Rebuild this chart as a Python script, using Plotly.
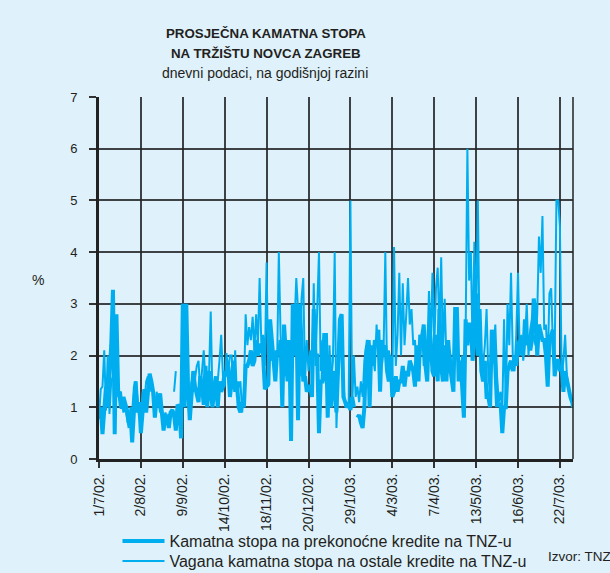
import plotly.graph_objects as go

# tick labels (every 24 working days)
tick_days = [0, 24, 48, 72, 96, 120, 144, 168, 192, 216, 240, 264]
tick_labels = ["1/7/02.", "2/8/02.", "9/9/02.", "14/10/02.", "18/11/02.", "20/12/02.",
               "29/1/03.", "4/3/03.", "7/4/03.", "13/5/03.", "16/6/03.", "22/7/03."]

# Kamatna stopa na prekonoćne kredite na TNZ-u (thick line), daily values
overnight = [
    0.77, 1.0, 0.48, 0.9, 1.4, 1.0, 1.5, 2.2, 3.27, 0.48,
    2.8, 1.26, 1.3, 0.97, 1.2, 1.1, 0.95, 0.7, 0.9, 0.32,
    0.85, 1.5, 0.9, 1.1, 0.5, 1.0, 1.35, 0.9, 1.2, 1.65,
    1.5, 1.3, 0.8, 1.2, 1.0, 1.27, 0.9, 0.55, 0.87, 0.8,
    0.6, 0.9, 0.95, 0.85, 0.55, 1.05, 1.0, 0.4, 3.0, 1.0,
    3.0, 1.4, 0.75, 1.2, 1.7, 1.4, 1.2, 1.1, 1.6, 1.4,
    1.05, 1.8, 1.0, 1.7, 1.3, 1.0, 1.4, 1.6, 1.0, 1.5,
    1.3, 1.4, 1.7, 1.6, 1.8, 1.2, 1.5, 1.9, 1.3, 1.5,
    1.0, 0.9, 1.1, 1.0, 1.8, 1.8, 1.9, 2.1, 1.8, 1.9,
    2.3, 2.0, 2.2, 2.2, 2.0, 1.35, 1.4, 1.45, 2.7, 2.3,
    2.0, 1.5, 2.1, 2.0, 2.3, 1.0, 2.6, 2.1, 1.5, 2.3,
    0.35, 3.0, 2.0, 3.0, 0.75, 3.0, 2.2, 1.5, 1.6, 1.3,
    1.4, 1.4, 1.2, 2.9, 2.0, 2.0, 0.5, 1.5, 1.5, 2.4,
    2.4, 0.8, 2.0, 1.0, 1.7, 1.4, 0.9, 1.8, 2.7, 2.8,
    1.2, 1.1, 1.0, 1.05, 0.95, 1.2, 1.0, None, 0.8, 0.85,
    0.7, 0.6, 1.0, 2.0, 2.3, 1.0, 2.2, 1.8, 2.3, 2.2,
    2.5, 1.3, 2.3, 2.0, 2.2, 1.7, 1.5, 2.0, 1.2, 1.3,
    1.6, 1.3, 1.5, 1.5, 1.8, 1.4, 1.7, 1.6, 1.9, 1.8,
    1.7, 1.4, 2.2, 1.5, 2.4, 2.3, 2.6, 1.8, 1.5, 2.6,
    2.3, 1.7, 1.6, 2.4, 1.5, 2.9, 1.8, 1.5, 2.2, 1.5,
    2.3, 1.8, 1.6, 1.3, 2.9, 2.9, 1.5, 1.9, 1.4, 0.8,
    2.7, 2.2, 2.6, 2.6, 1.9, 2.4, 3.2, 2.0, 2.9, 1.7,
    1.5, 1.9, 1.2, 1.2, 1.0, 2.5, 2.3, 1.8, 1.0, None,
    1.1, 0.5, 1.0, 1.0, 1.7, 1.8, 1.9, 1.7, 2.0, 1.8,
    2.2, 2.3, 2.1, 2.0, 2.7, 2.2, 2.3, 2.1, 2.3, 3.1,
    2.9, 2.0, 2.6, 2.4, 2.3, 2.3, 2.0, 1.4, 2.3, 2.4,
    2.5, 1.6, 1.9, 1.9, 1.7, 1.8, 1.3, 1.7, 1.5, 1.3,
    1.2, 1.1,
]

# Vagana kamatna stopa na ostale kredite na TNZ-u (thin line), daily values
other = [
    0.8, 1.35, 1.4, 2.1, 0.94, 2.0, 0.87, 1.5, 1.6, 1.4,
    1.2, 1.3, 1.0, 1.1, 0.9, 1.0, 0.8, 0.6, 1.0, 0.9,
    1.4, 1.5, 1.2, 0.8, 0.9, 1.3, 1.1, 1.5, 1.6, 1.3,
    1.5, 1.2, 1.0, 1.3, 1.1, 0.9, 1.0, 0.6, 0.9, 0.7,
    0.85, 0.9, None, 1.3, 1.7, None, 1.0, 0.45, 3.0, 2.9,
    2.4, 1.1, 1.0, 1.5, 1.3, 1.6, 1.8, 1.9, 1.3, 1.7,
    2.1, 1.5, 1.2, 1.6, 2.85, 1.2, 1.1, 1.3, 1.5, 1.9,
    2.4, 1.6, 1.4, 2.05, 1.7, 2.0, 2.0, 1.4, 2.1, 1.2,
    1.4, 1.5, 0.9, 1.3, 2.8, 2.2, 2.55, 2.3, 2.75, 2.1,
    2.8, 2.2, 3.5, 2.2, 2.4, 1.8, 3.8, 1.4, 2.3, 1.9,
    2.1, 1.6, 1.8, 4.0, 2.4, 1.8, 2.2, 1.6, 2.3, 1.5,
    1.8, 2.5, 2.6, 3.5, 2.9, 1.6, 3.1, 3.5, 1.5, 2.3,
    1.7, 2.1, 1.5, 3.4, 1.8, 2.9, 4.0, 1.7, 2.3, 1.5,
    1.8, 1.2, 2.2, 1.5, 1.9, 4.0, 0.6, 1.6, 2.2, 2.6,
    1.5, 1.0, 1.1, 1.0, 5.0, 1.0, 2.0, 1.2, 1.4, 1.1,
    1.5, 1.2, 1.9, 2.2, 1.6, 2.3, 1.8, 2.0, 1.7, 2.6,
    2.0, 2.2, 1.8, 2.1, 4.0, 1.6, 2.1, 1.9, 1.4, 4.1,
    1.8, 2.4, 3.6, 2.0, 3.4, 2.2, 2.8, 3.5, 2.6, 2.9,
    2.2, 2.3, 1.6, 2.1, 2.0, 2.5, 1.8, 2.3, 2.0, 3.25,
    2.2, 3.6, 2.1, 3.3, 3.7, 2.4, 3.9, 2.1, 3.1, 1.9,
    1.8, 2.1, 1.8, 1.7, 2.5, 2.2, 1.8, 1.6, 2.0, 1.5,
    2.4, 6.0, 3.45, 4.0, 2.1, 4.2, 2.6, 5.0, 2.2, 2.0,
    1.8, 2.2, 2.9, 1.6, 1.3, 2.0, 2.1, 2.6, 1.6, 1.1,
    1.3, 0.9, 2.7, 1.0, 3.0, 2.2, 3.6, 2.0, 1.7, 2.4,
    3.6, 2.0, 2.4, 1.9, 2.3, 3.0, 2.0, 2.5, 2.7, 2.4,
    2.2, 2.8, 4.3, 3.6, 4.7, 2.5, 2.6, 1.8, 3.2, 3.3,
    2.2, 2.0, 5.0, 5.0, 4.5, 1.6, 1.9, 2.4, 1.6, 1.4,
    1.2, 1.0,
]

days = list(range(len(overnight)))

BG = "#dff1fb"
LINE = "#00aeef"
TXT = "#231f20"
FONT = "Liberation Sans, Arial, sans-serif"

fig = go.Figure()
fig.add_trace(go.Scatter(
    x=days, y=overnight, mode="lines", connectgaps=False,
    line=dict(color=LINE, width=4), legend="legend",
    name="Kamatna stopa na prekonoćne kredite na TNZ-u"))
fig.add_trace(go.Scatter(
    x=list(range(len(other))), y=other, mode="lines", connectgaps=False,
    line=dict(color=LINE, width=2), legend="legend2",
    name="Vagana kamatna stopa na ostale kredite na TNZ-u"))

LEG = dict(xanchor="left", yanchor="middle", bgcolor="rgba(0,0,0,0)",
           font=dict(size=16, color=TXT), itemwidth=42)

fig.update_layout(
    width=610, height=573,
    margin=dict(l=99, r=37, t=97, b=114, autoexpand=False),
    paper_bgcolor=BG, plot_bgcolor=BG,
    font=dict(family=FONT, size=14, color=TXT),
    showlegend=True,
    legend=dict(x=0.039, y=(459 - 541) / 362, **LEG),
    legend2=dict(x=0.039, y=(459 - 561) / 362, **LEG),
    xaxis=dict(range=[0, 271.5], tickmode="array", tickvals=tick_days, ticktext=tick_labels,
               tickangle=-90, ticks="outside", ticklen=6, tickwidth=1.5, tickcolor="#333",
               showgrid=True, gridcolor="rgba(35,35,35,0.85)", gridwidth=1.5,
               showline=True, linecolor="#222", linewidth=3, zeroline=False,
               automargin=False, tickfont=dict(size=14, color=TXT)),
    yaxis=dict(range=[0, 7], tickvals=[0, 1, 2, 3, 4, 5, 6, 7],
               ticks="outside", ticklen=7, tickwidth=1.5, tickcolor="#333",
               ticklabelstandoff=9,
               showgrid=True, gridcolor="rgba(35,35,35,0.85)", gridwidth=1.5,
               showline=True, linecolor="#222", linewidth=3, zeroline=False,
               automargin=False, tickfont=dict(size=13, color=TXT)),
)

fig.add_shape(type="line", xref="paper", yref="paper", x0=1, x1=1, y0=0, y1=1,
              line=dict(color="#222", width=1.5))

TITLE_FONT = dict(family="Liberation Sans, Arial", size=13.3, color=TXT)
fig.add_annotation(text="<b>PROSJEČNA KAMATNA STOPA</b>", xref="paper", yref="paper",
                   x=(266 - 99) / 474, y=1 + (97 - 24) / 362, showarrow=False,
                   font=TITLE_FONT)
fig.add_annotation(text="<b>NA TRŽIŠTU NOVCA ZAGREB</b>", xref="paper", yref="paper",
                   x=(266 - 99) / 474, y=1 + (97 - 44) / 362, showarrow=False,
                   font=TITLE_FONT)
fig.add_annotation(text="dnevni podaci, na godišnjoj razini", xref="paper", yref="paper",
                   x=(265 - 99) / 474, y=1 + (97 - 63) / 362, showarrow=False,
                   font=dict(size=14, color=TXT))
fig.add_annotation(text="%", xref="paper", yref="paper",
                   x=(30 - 99) / 474, y=(459 - 280) / 362, showarrow=False,
                   font=dict(size=14, color=TXT))
fig.add_annotation(text="Izvor: TNZ", xref="paper", yref="paper",
                   x=(546 - 99) / 474, y=(459 - 566) / 362, xanchor="left", showarrow=False,
                   font=dict(size=13.5, color=TXT))

fig.write_html("out.html", config={"displayModeBar": False},
               post_script="document.body.style.margin='0';")
